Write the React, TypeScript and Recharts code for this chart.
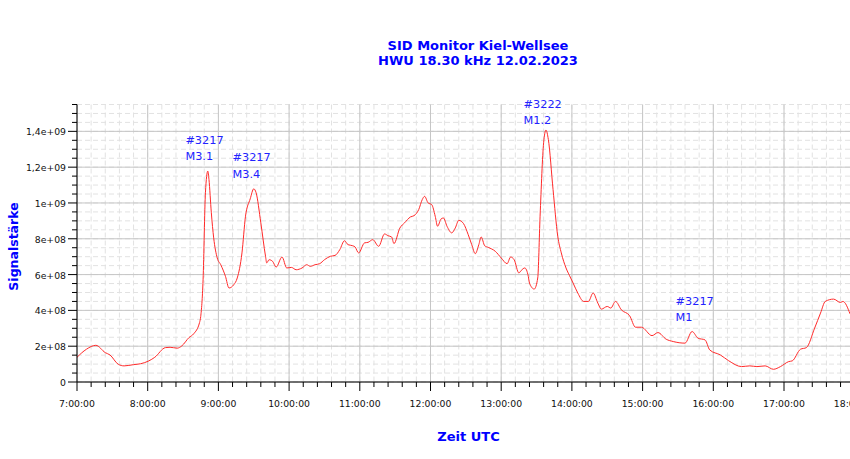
import React from 'react';
import { LineChart, Line, XAxis, YAxis, CartesianGrid, ReferenceDot } from 'recharts';

const times = ['7:00','7:08','7:16','7:24','7:28','7:35','7:40','7:48','7:54','8:01',
'8:06','8:15','8:19','8:25','8:29','8:35','8:39','8:44','8:45','8:47',
'8:49','8:51','8:52','8:54','8:56','8:59','9:02','9:06','9:09','9:13',
'9:16','9:20','9:23','9:27','9:30','9:32','9:36','9:40','9:41','9:43',
'9:46','9:49','9:54','9:58','10:02','10:06','10:11','10:15','10:18','10:22',
'10:26','10:30','10:35','10:39','10:43','10:47','10:50','10:54','10:56','10:59',
'11:04','11:07','11:11','11:16','11:21','11:24','11:27','11:29','11:34','11:38',
'11:43','11:46','11:50','11:53','11:55','11:58','12:01','12:04','12:06','12:09',
'12:11','12:14','12:18','12:21','12:24','12:28','12:32','12:35','12:38','12:41',
'12:43','12:46','12:49','12:55','13:00','13:05','13:08','13:11','13:15','13:17',
'13:20','13:23','13:24','13:28','13:31','13:33','13:36','13:38','13:40','13:44',
'13:48','13:51','13:55','13:58','14:01','14:05','14:10','14:14','14:18','14:22',
'14:25','14:30','14:33','14:37','14:42','14:49','14:54','14:59','15:08','15:13',
'15:20','15:26','15:36','15:42','15:47','15:53','15:57','16:06','16:13','16:24',
'16:31','16:37','16:44','16:51','16:57','17:04','17:07','17:14','17:19','17:26',
'17:31','17:35','17:42','17:48','17:50','17:56'];

const signal = [1.38e8,1.83e8,2.05e8,1.64e8,1.51e8,0.99e8,0.90e8,0.97e8,1.02e8,1.18e8,
1.38e8,1.92e8,1.94e8,1.89e8,2.02e8,2.48e8,2.69e8,3.32e8,3.66e8,5.71e8,
10.57e8,11.78e8,11.31e8,9.45e8,8.05e8,6.93e8,6.55e8,5.90e8,5.25e8,5.43e8,
5.81e8,7.21e8,9.26e8,10.23e8,10.79e8,10.57e8,8.89e8,7.02e8,6.65e8,6.83e8,
6.74e8,6.42e8,6.98e8,6.37e8,6.40e8,6.27e8,6.37e8,6.55e8,6.46e8,6.55e8,
6.61e8,6.83e8,7.02e8,7.07e8,7.39e8,7.89e8,7.67e8,7.61e8,7.54e8,7.21e8,
7.77e8,7.80e8,7.95e8,7.58e8,8.27e8,8.17e8,8.10e8,7.73e8,8.60e8,8.89e8,
9.22e8,9.29e8,9.63e8,10.19e8,10.37e8,10.0e8,9.91e8,9.26e8,8.70e8,9.11e8,
9.16e8,8.70e8,8.33e8,8.60e8,9.03e8,8.85e8,8.23e8,7.67e8,7.17e8,7.67e8,
8.10e8,7.61e8,7.52e8,7.30e8,6.93e8,6.61e8,6.98e8,6.83e8,6.09e8,6.23e8,
6.37e8,5.90e8,5.53e8,5.19e8,5.81e8,9.26e8,13.36e8,14.07e8,13.55e8,10.75e8,
8.14e8,7.21e8,6.37e8,5.94e8,5.53e8,4.97e8,4.50e8,4.50e8,4.97e8,4.41e8,
4.07e8,4.22e8,4.13e8,4.50e8,4.03e8,3.70e8,3.06e8,3.06e8,2.59e8,2.76e8,
2.39e8,2.26e8,2.17e8,2.82e8,2.45e8,2.35e8,1.79e8,1.51e8,1.19e8,0.86e8,
0.90e8,0.86e8,0.90e8,0.71e8,0.86e8,1.14e8,1.18e8,1.83e8,1.92e8,3.01e8,
3.85e8,4.50e8,4.63e8,4.44e8,4.50e8,3.81e8];

const xHourTicks = ['7:00','8:00','9:00','10:00','11:00','12:00','13:00','14:00','15:00','16:00','17:00','18:00'];
const xTickLabels = ['7:00:00','8:00:00','9:00:00','10:00:00','11:00:00','12:00:00','13:00:00','14:00:00','15:00:00','16:00:00','17:00:00','18:00:00'];
const yMajorTicks = [0, 2e8, 4e8, 6e8, 8e8, 1e9, 1.2e9, 1.4e9];
const yTickLabels = ['0', '2e+08', '4e+08', '6e+08', '8e+08', '1e+09', '1,2e+09', '1,4e+09'];

const annoTimes = ['8:32', '9:12', '13:19', '15:28'];
const annoValues = [1.33e9, 1.232e9, 1.533e9, 4.31e8];
const annoLines = [['#3217', 'M3.1'], ['#3217', 'M3.4'], ['#3222', 'M1.2'], ['#3217', 'M1']];

const toMin = (s: string) => {
  const [h, m] = s.split(':').map(Number);
  return h * 60 + m;
};

const data = times.map((t, i) => ({ t: toMin(t), v: signal[i] }));

const X_MIN = toMin('7:00');
const X_MAX = toMin('18:00');
const Y_MAX = 1.55e9;

const xMajor = xHourTicks.map(toMin);
const xMinor: number[] = [];
for (let m = X_MIN; m <= X_MAX; m += 12) xMinor.push(m);
const yMinor: number[] = [];
for (let k = 0; k <= 31; k++) yMinor.push(k * 5e7);

const FONT = '"DejaVu Sans", Verdana, sans-serif';

const XTick = (props: any) => {
  const { x, y, payload } = props;
  const idx = xMajor.indexOf(payload.value);
  const major = idx >= 0;
  return (
    <g>
      <line x1={x} y1={y} x2={x} y2={y + (major ? 9 : 5)} stroke="#000" strokeWidth={1} />
      {major && (
        <text x={x} y={y + 24.5} textAnchor="middle" fontFamily={FONT} fontSize={9.3} fill="#111">
          {xTickLabels[idx]}
        </text>
      )}
    </g>
  );
};

const YTick = (props: any) => {
  const { x, y, payload } = props;
  const idx = yMajorTicks.findIndex((v) => Math.abs(v - payload.value) < 1);
  const major = idx >= 0;
  return (
    <g>
      <line x1={x - (major ? 9 : 5)} y1={y} x2={x} y2={y} stroke="#000" strokeWidth={1} />
      {major && (
        <text x={x - 11} y={y + 4} textAnchor="end" fontFamily={FONT} fontSize={9.3} fill="#111">
          {yTickLabels[idx]}
        </text>
      )}
    </g>
  );
};

const makeAnno = (lines: string[]) => (p: any) => (
  <text x={p.cx} y={p.cy} fontFamily={FONT} fontSize={11.3} fill="#2222ff">
    <tspan x={p.cx} dy={0}>{lines[0]}</tspan>
    <tspan x={p.cx} dy={16.5}>{lines[1]}</tspan>
  </text>
);

export default function App() {
  return (
    <div style={{ position: 'fixed', left: 0, top: 0, width: 850, height: 459, overflow: 'hidden', background: '#fff' }}>
      <LineChart
        width={870}
        height={459}
        data={data}
        margin={{ top: 104.5, right: 15.3, bottom: 47, left: 0 }}
      >
        <CartesianGrid
          horizontalValues={yMinor}
          verticalValues={xMinor}
          stroke="#e2e2e2"
          strokeDasharray="5 3"
        />
        <CartesianGrid
          horizontalValues={yMajorTicks}
          verticalValues={xMajor}
          stroke="#c6c6c6"
        />
        <XAxis
          dataKey="t"
          type="number"
          domain={[X_MIN, X_MAX]}
          ticks={xMinor}
          interval={0}
          tickSize={0}
          tickMargin={0}
          tickLine={false}
          tick={<XTick />}
          axisLine={{ stroke: '#000' }}
          height={30}
          allowDataOverflow
        />
        <YAxis
          type="number"
          domain={[0, Y_MAX]}
          ticks={yMinor}
          interval={0}
          tickSize={0}
          tickMargin={0}
          tickLine={false}
          tick={<YTick />}
          axisLine={{ stroke: '#000' }}
          width={77}
          allowDataOverflow
        />
        <Line
          dataKey="v"
          type="monotone"
          stroke="#ff2a2a"
          strokeWidth={1}
          dot={false}
          isAnimationActive={false}
        />
        {annoTimes.map((t, i) => (
          <ReferenceDot
            key={i}
            x={toMin(t)}
            y={annoValues[i]}
            r={0}
            ifOverflow="visible"
            shape={makeAnno(annoLines[i])}
          />
        ))}
      </LineChart>
      <svg width={850} height={459} style={{ position: 'absolute', left: 0, top: 0, pointerEvents: 'none' }}>
        <text x={478} y={49.5} textAnchor="middle" fontFamily={FONT} fontWeight="bold" fontSize={13} fill="#0000ff">
          SID Monitor Kiel-Wellsee
        </text>
        <text x={478} y={65} textAnchor="middle" fontFamily={FONT} fontWeight="bold" fontSize={13} fill="#0000ff">
          HWU 18.30 kHz 12.02.2023
        </text>
        <text x={468.5} y={441} textAnchor="middle" fontFamily={FONT} fontWeight="bold" fontSize={13} fill="#0000ff">
          Zeit UTC
        </text>
        <text
          x={18}
          y={246.5}
          textAnchor="middle"
          fontFamily={FONT}
          fontWeight="bold"
          fontSize={12.5}
          fill="#0000ff"
          transform="rotate(-90, 18, 246.5)"
        >
          Signalstärke
        </text>
      </svg>
    </div>
  );
}
